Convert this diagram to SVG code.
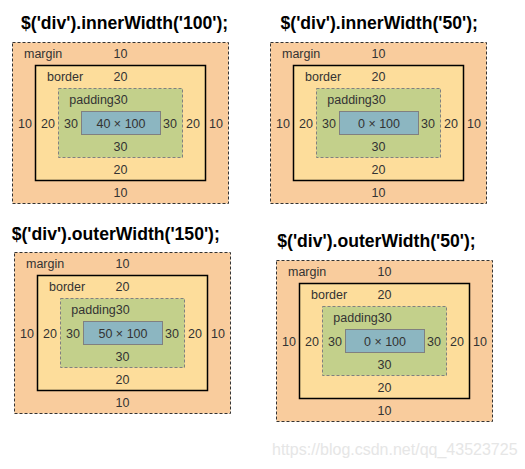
<svg xmlns="http://www.w3.org/2000/svg" width="525" height="469" viewBox="0 0 525 469">
<style>
.bg{fill:#ffffff}
.title{font-family:"Liberation Sans",Arial,sans-serif;font-weight:bold;font-size:17.6px;fill:#000}
.lbl{font-family:"Liberation Sans",Arial,sans-serif;font-size:12.5px;fill:#333}
.c{text-anchor:middle}
.margin{fill:#f9cc9d;stroke:#333;stroke-width:1;stroke-dasharray:3 2}
.border{fill:#fddd9b;stroke:#000;stroke-width:1.5}
.padding{fill:#c3d08b;stroke:#808080;stroke-width:1;stroke-dasharray:3 2}
.content{fill:#8cb6c1;stroke:#808080;stroke-width:1}
.wm{font-family:"Liberation Sans",Arial,sans-serif;font-size:16px;fill:#e6e6e6}
</style>
<defs>
<g id="frame">
<rect class="margin" x="12.5" y="42.5" width="216" height="161"/>
<rect class="border" x="35.5" y="65.5" width="170" height="115"/>
<rect class="padding" x="58.5" y="88.5" width="124" height="69"/>
<rect class="content" x="81.5" y="111.5" width="79" height="23"/>
<text class="lbl" x="24" y="58">margin</text>
<text class="lbl c" x="120.5" y="58">10</text>
<text class="lbl" x="47" y="81">border</text>
<text class="lbl c" x="120.5" y="81">20</text>
<text class="lbl" x="69.3" y="104">padding</text>
<text class="lbl c" x="120.8" y="104">30</text>
<text class="lbl c" x="25" y="127.5">10</text>
<text class="lbl c" x="48" y="127.5">20</text>
<text class="lbl c" x="71" y="127.5">30</text>
<text class="lbl c" x="170" y="127.5">30</text>
<text class="lbl c" x="193" y="127.5">20</text>
<text class="lbl c" x="216" y="127.5">10</text>
<text class="lbl c" x="120.5" y="150.5">30</text>
<text class="lbl c" x="120.5" y="173.5">20</text>
<text class="lbl c" x="120.5" y="196.5">10</text>
</g>
</defs>
<rect class="bg" x="0" y="0" width="525" height="469"/>
<g id="panel-inner-100">
<text class="title" x="21" y="28.5">$('div').innerWidth('100');</text>
<use href="#frame"/>
<text class="lbl c" x="121" y="127.5">40 × 100</text>
</g>
<g id="panel-inner-50" transform="translate(258,0)">
<text class="title" x="22.5" y="28.5">$('div').innerWidth('50');</text>
<use href="#frame"/>
<text class="lbl c" x="121" y="127.5">0 × 100</text>
</g>
<g id="panel-outer-150" transform="translate(2,210)">
<text class="title" x="9.7" y="30">$('div').outerWidth('150');</text>
<use href="#frame"/>
<text class="lbl c" x="121" y="127.5">50 × 100</text>
</g>
<g id="panel-outer-50" transform="translate(264,218)">
<text class="title" x="13.3" y="29">$('div').outerWidth('50');</text>
<use href="#frame"/>
<text class="lbl c" x="121" y="127.5">0 × 100</text>
</g>
<g id="connectors"></g>
<text class="wm" x="272" y="455">https://blog.csdn.net/qq_43523725</text>
</svg>
